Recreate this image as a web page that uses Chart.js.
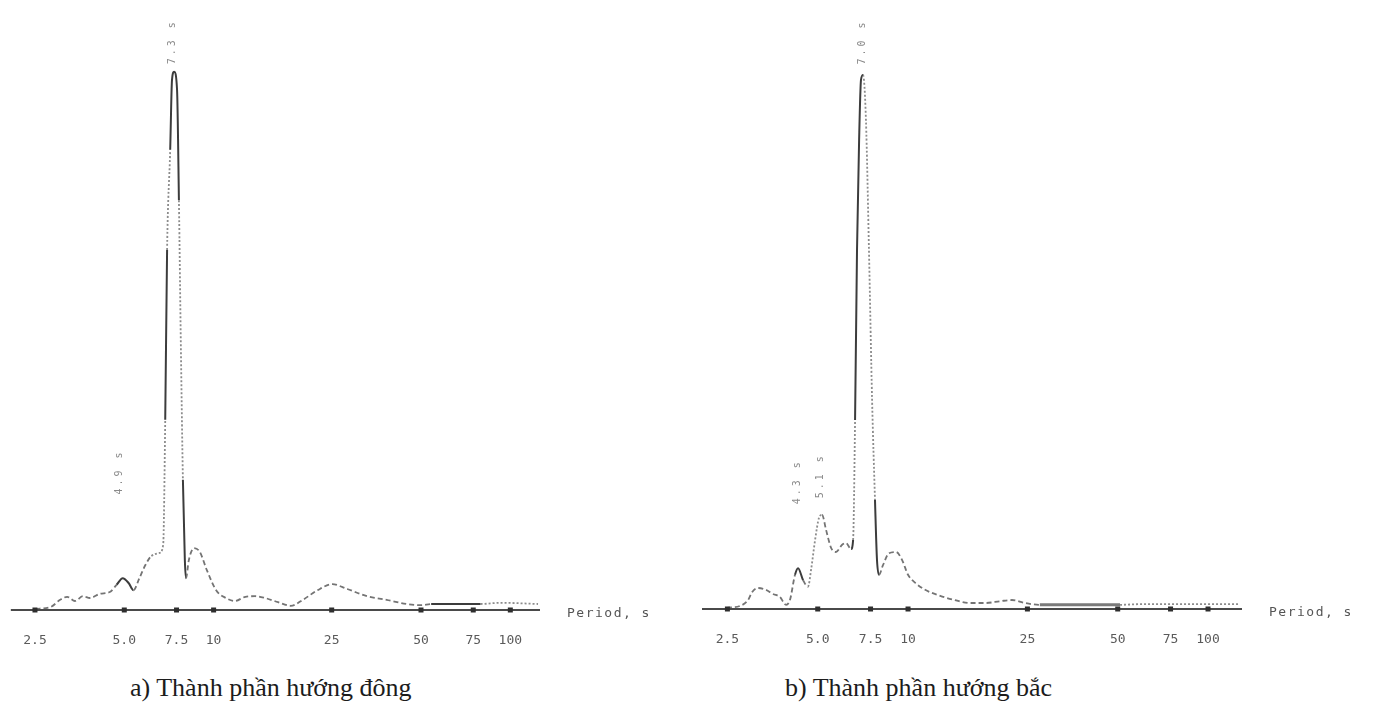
<!DOCTYPE html>
<html><head><meta charset="utf-8">
<script src="https://cdn.jsdelivr.net/npm/chart.js@4.4.1/dist/chart.umd.min.js"></script>
<style>
html,body{margin:0;padding:0;background:#fff;width:1378px;height:726px;overflow:hidden;}
#cA{position:absolute;left:0;top:0;}
#cB{position:absolute;left:689px;top:-1px;}
.cap{position:absolute;top:673px;font-family:"Liberation Serif",serif;font-size:26px;color:#1c1c1c;white-space:nowrap;}
</style></head><body>
<canvas id="cA" width="689" height="665"></canvas>
<canvas id="cB" width="689" height="665"></canvas>
<div class="cap" id="capA" style="left:130px">a) Thành phần hướng đông</div>
<div class="cap" id="capB" style="left:785px">b) Thành phần hướng bắc</div>
<script>
// ---------- data ----------
const tickPeriods = [2.5, 5.0, 7.5, 10, 25, 50, 75, 100];
const tickLabels  = ['2.5', '5.0', '7.5', '10', '25', '50', '75', '100'];

// a) east component
const eastPeriods = [2.51,2.82,3.04,3.21,3.41,3.63,3.83,4.14,4.47,4.71,4.94,5.17,5.37,5.62,5.89,6.17,6.56,6.76,6.87,6.97,7.14,7.24,7.36,7.53,7.64,7.76,7.88,8.00,8.07,8.25,8.58,8.98,9.48,10.2,11.0,11.8,12.8,13.8,14.9,16.5,18.2,20.0,22.4,25.1,28.2,32.9,38.3,44.7,50.1,54.1,79.4,92.6,124];
const eastValues  = [0.002,0.005,0.017,0.022,0.015,0.023,0.020,0.027,0.030,0.042,0.053,0.045,0.033,0.053,0.075,0.090,0.095,0.108,0.317,0.600,0.767,0.883,0.897,0.867,0.683,0.433,0.217,0.083,0.053,0.083,0.103,0.097,0.067,0.033,0.020,0.015,0.022,0.023,0.020,0.013,0.007,0.017,0.033,0.043,0.035,0.023,0.017,0.010,0.008,0.010,0.010,0.012,0.010];
const eastLabelPeriods = [7.24, 4.83];
const eastLabelValues  = [0.947, 0.23];
const eastLabelTexts   = ['7.3 s', '4.9 s'];

// b) north component
const northPeriods = [2.49,2.75,2.93,3.02,3.16,3.36,3.55,3.74,3.92,4.04,4.20,4.30,4.47,4.64,4.75,4.90,5.05,5.17,5.33,5.54,5.75,6.03,6.21,6.46,6.56,6.66,6.76,6.87,6.97,7.08,7.24,7.41,7.59,7.76,7.88,8.00,8.25,8.64,9.12,9.55,10.0,10.6,11.4,12.8,14.3,16.1,18.1,20.3,22.2,24.5,27.5,50.9,59.3,127];
const northValues  = [0.002,0.005,0.015,0.028,0.035,0.032,0.025,0.020,0.007,0.015,0.057,0.068,0.048,0.037,0.065,0.115,0.152,0.157,0.132,0.102,0.095,0.107,0.110,0.100,0.115,0.315,0.598,0.782,0.882,0.890,0.815,0.598,0.348,0.182,0.082,0.057,0.073,0.093,0.095,0.082,0.057,0.043,0.032,0.022,0.015,0.010,0.010,0.013,0.015,0.010,0.007,0.007,0.008,0.008];
const northLabelPeriods = [7.03, 4.27, 5.09];
const northLabelValues  = [0.945, 0.212, 0.222];
const northLabelTexts   = ['7.0 s', '4.3 s', '5.1 s'];

// ---------- styles ----------
const STY = {
  solid:  {dash: [],     color: '#3c3c3c', width: 2},
  dashed: {dash: [5, 3], color: '#747474', width: 1.8},
  dotted: {dash: [2, 2], color: '#8c8c8c', width: 1.8},
  thick:  {dash: [],     color: '#7a7a7a', width: 3}
};
function eastStyle(x0, x1, y0, y1) {
  const m = (y0 + y1) / 2;
  if (x0 >= 4.7 && x1 <= 5.4) return 'solid';
  if (x0 >= 6.17 && x1 <= 6.9 && m < 0.2) return 'dotted';
  if (x0 >= 6.76 && x1 <= 7.37) return m < 0.25 ? 'dotted' : m < 0.55 ? 'solid' : m < 0.75 ? 'dotted' : 'solid';
  if (x0 >= 7.36 && x1 <= 8.1) return m > 0.75 ? 'solid' : m > 0.2 ? 'dotted' : 'solid';
  if (x0 >= 54 && x1 <= 80) return 'solid';
  if (x0 >= 79) return 'dotted';
  return 'dashed';
}
function northStyle(x0, x1, y0, y1) {
  const m = (y0 + y1) / 2;
  if (x0 >= 4.1 && x1 <= 4.5) return 'solid';
  if (x0 >= 4.6 && x1 <= 5.2) return 'dotted';
  if (x0 >= 6.4 && x1 <= 7.09) return m < 0.25 && m > 0.12 ? 'dotted' : 'solid';
  if (x0 >= 7.08 && x1 <= 8.0) return m > 0.2 ? 'dotted' : 'solid';
  if (x0 >= 27 && x1 <= 51) return 'thick';
  if (x0 >= 50) return 'dotted';
  return 'dashed';
}

function makeChart(id, periods, values, styleFn, labP, labV, labT, padL, padR, xMin, xMax) {
  const segStyle = c => STY[styleFn(c.p0.parsed.x, c.p1.parsed.x, c.p0.parsed.y, c.p1.parsed.y)];
  const deco = {
    id: 'deco',
    afterDatasetsDraw(chart) {
      const ctx = chart.ctx, a = chart.chartArea;
      const xs = chart.scales.x, ys = chart.scales.y;
      const y0 = ys.getPixelForValue(0);
      ctx.save();
      ctx.strokeStyle = '#4a4a4a'; ctx.lineWidth = 2; ctx.setLineDash([]);
      ctx.beginPath(); ctx.moveTo(a.left, y0); ctx.lineTo(a.right, y0); ctx.stroke();
      ctx.fillStyle = '#2e2e2e';
      tickPeriods.forEach(p => {
        const x = xs.getPixelForValue(p);
        ctx.fillRect(x - 2.5, y0 - 2.5, 5, 5);
      });
      ctx.fillStyle = '#555'; ctx.font = '13px "DejaVu Sans Mono", monospace';
      ctx.textBaseline = 'middle'; ctx.textAlign = 'left';
      ctx.letterSpacing = '1.5px';
      ctx.fillText('Period, s', a.right + 27, y0 + 4);
      ctx.font = '10px "DejaVu Sans Mono", monospace';
      ctx.letterSpacing = '3px';
      ctx.fillStyle = '#8a8a8a';
      ctx.textAlign = 'center';
      labP.forEach((p, i) => {
        const x = xs.getPixelForValue(p), y = ys.getPixelForValue(labV[i]);
        ctx.save(); ctx.translate(x, y); ctx.rotate(-Math.PI / 2);
        ctx.fillText(labT[i], 0, 0);
        ctx.restore();
      });
      ctx.restore();
    }
  };
  return new Chart(document.getElementById(id), {
    type: 'line',
    data: {
      datasets: [{
        data: periods.map((p, i) => ({x: p, y: values[i]})),
        borderColor: '#747474', borderWidth: 1.8, pointRadius: 0,
        cubicInterpolationMode: 'monotone',
        segment: {
          borderDash: c => segStyle(c).dash,
          borderColor: c => segStyle(c).color,
          borderWidth: c => segStyle(c).width
        }
      }]
    },
    options: {
      responsive: false, animation: false,
      layout: {padding: {left: padL, right: padR, top: 10, bottom: 0}},
      plugins: {legend: {display: false}, tooltip: {enabled: false}},
      scales: {
        x: {
          type: 'logarithmic', min: xMin, max: xMax,
          afterBuildTicks: s => { s.ticks = tickPeriods.map(v => ({value: v})); },
          afterFit: s => { s.height = 55; },
          grid: {display: false, drawTicks: false},
          border: {display: false},
          ticks: {
            autoSkip: false, maxRotation: 0, padding: 23, color: '#5a5a5a',
            font: {family: '"DejaVu Sans Mono", monospace', size: 13},
            callback: (v) => { const i = tickPeriods.indexOf(v); return i >= 0 ? tickLabels[i] : ''; }
          }
        },
        y: {min: 0, max: 1, display: false}
      }
    },
    plugins: [deco]
  });
}

makeChart('cA', eastPeriods, eastValues, eastStyle, eastLabelPeriods, eastLabelValues, eastLabelTexts, 5, 149, 2.073, 125.9);
makeChart('cB', northPeriods, northValues, northStyle, northLabelPeriods, northLabelValues, northLabelTexts, 13, 136, 2.057, 129.8);
</script>
</body></html>
